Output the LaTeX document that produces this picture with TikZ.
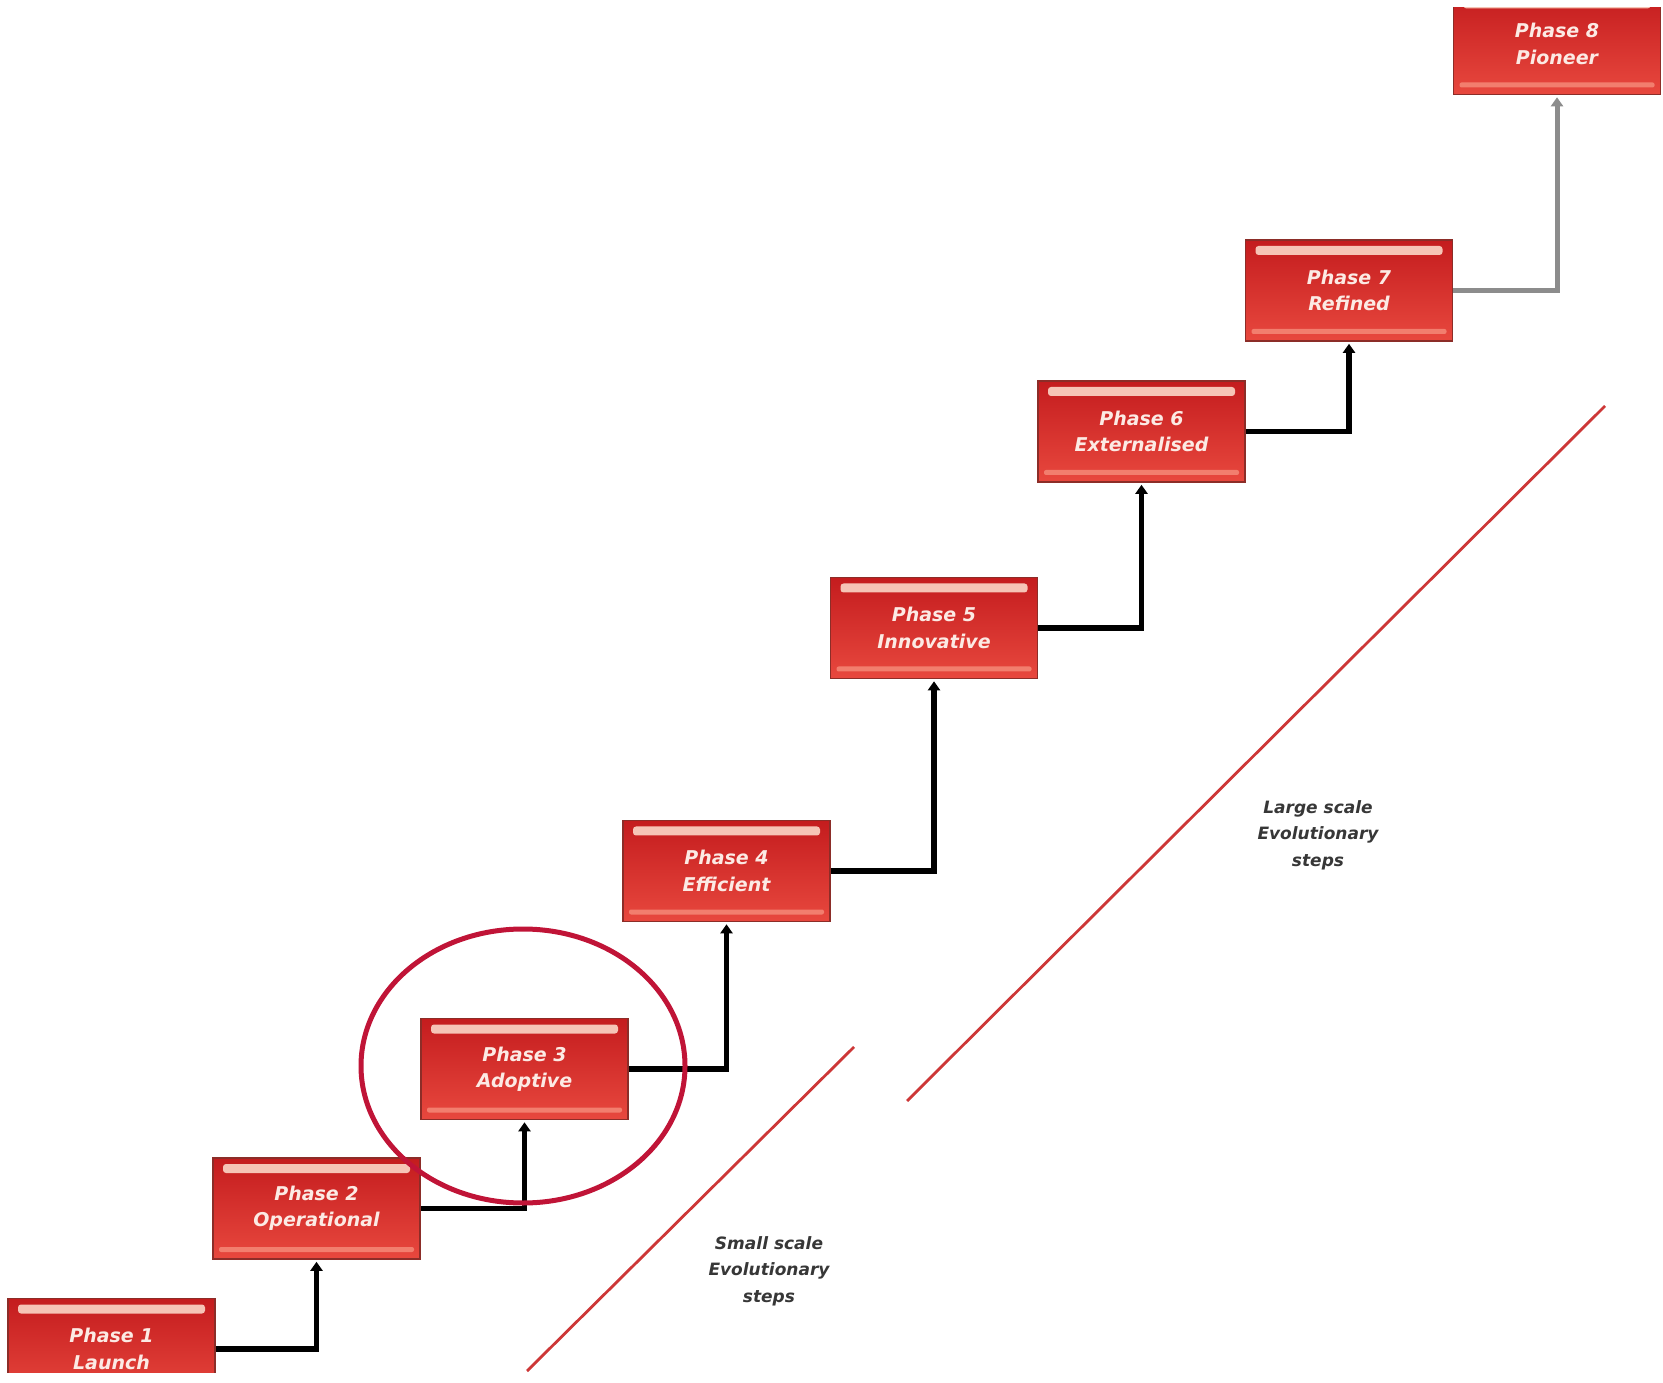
\documentclass[tikz,border=0pt]{standalone}
\usepackage{fontspec}
\setmainfont{DejaVu Sans}
\usepackage{xcolor}
\usepackage{tikz}
\usetikzlibrary{arrows.meta,calc}

\definecolor{phasetop}{RGB}{196,28,30}
\definecolor{phasebot}{RGB}{232,72,62}
\definecolor{phaseedge}{RGB}{140,45,40}
\definecolor{phaseglow}{RGB}{246,196,182}
\definecolor{phasesheen}{RGB}{242,126,110}
\definecolor{phasetext}{RGB}{252,234,228}
\definecolor{scalered}{RGB}{205,55,55}
\definecolor{ringred}{RGB}{192,20,55}
\definecolor{labelgray}{RGB}{55,55,55}
\definecolor{lastgray}{RGB}{140,140,140}

\tikzset{
  phasebox/.style={draw=phaseedge,line width=0.8pt,top color=phasetop,bottom color=phasebot,
    minimum width=103.5pt,minimum height=50.5pt,inner sep=0pt,align=center,
    text=phasetext,font=\fontsize{9.5}{13.2}\selectfont\bfseries\itshape,
    path picture={
      \fill[phaseglow,rounded corners=1.5pt] ($(path picture bounding box.north west)+(5pt,-3pt)$)
        rectangle ($(path picture bounding box.north east)+(-5pt,-7.5pt)$);
      \fill[phasesheen,rounded corners=1pt] ($(path picture bounding box.south west)+(3pt,3.5pt)$)
        rectangle ($(path picture bounding box.south east)+(-3pt,6pt)$);
    }},
  stepline/.style={line width=2.8pt,-{Triangle[length=4.5pt,width=6pt]},shorten >=1pt},
  scaleline/.style={scalered,line width=1.4pt},
  scalelabel/.style={align=center,text=labelgray,font=\fontsize{8.5}{13.2}\selectfont\bfseries\itshape}
}

\begin{document}
\begin{tikzpicture}[x=0.5pt,y=0.5pt]
  \useasboundingbox (0,0) rectangle (1663,1382);
  \clip (0,10) rectangle (1663,1374);
  \foreach \n/\x/\y/\lab in {1/111.5/33/Launch,2/316.5/173.5/Operational,3/524.5/313/Adoptive,
      4/726.5/511/Efficient,5/934/754/Innovative,6/1141.5/950.5/Externalised,
      7/1349/1091.5/Refined,8/1557/1338/Pioneer}{
    \node[phasebox] (p\n) at (\x,\y) {Phase \n\\\lab};
  }
  \foreach \a/\b in {1/2,2/3,3/4,4/5,5/6,6/7}{
    \draw[stepline] (p\a.east) -| (p\b.south);
  }
  \draw[stepline,lastgray,line width=2.5pt] (p7.east) -| (p8.south);

  \draw[ringred,line width=2.5pt] (523,316) ellipse [x radius=81pt,y radius=68.5pt];

  \draw[scaleline] (527,11) -- (854,335);
  \draw[scaleline] (907,281) -- (1605,976);
  \node[scalelabel] (small) at (769,111) {Small scale\\Evolutionary\\steps};
  \node[scalelabel] (large) at (1318,547) {Large scale\\Evolutionary\\steps};
\end{tikzpicture}
\end{document}
